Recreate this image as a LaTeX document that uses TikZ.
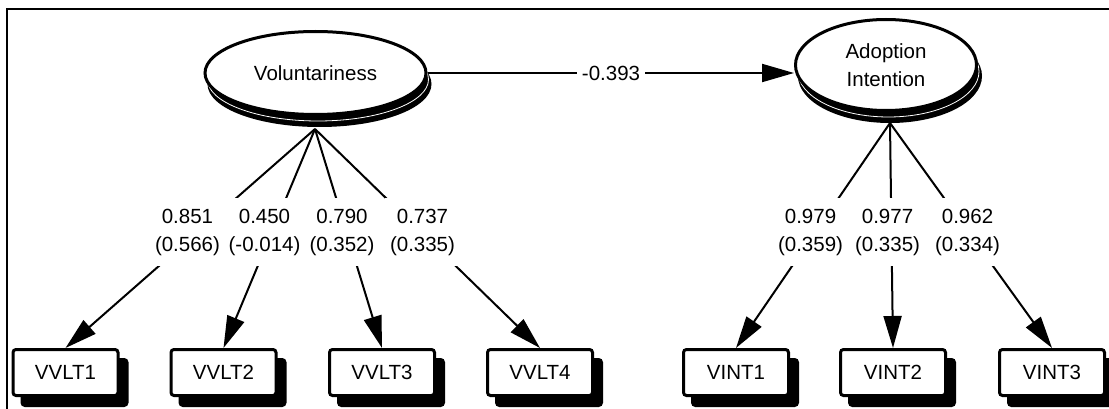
\documentclass[tikz,border=0pt]{standalone}
\usepackage{fontspec}
\setmainfont{Liberation Sans}
\usetikzlibrary{arrows.meta,shapes.geometric,shadows}
\begin{document}
\begin{tikzpicture}[x=1pt,y=-1pt,
  every node/.style={font=\fontsize{20.5}{28}\selectfont},
  latent/.style={ellipse, draw, line width=3pt, fill=white, inner sep=0pt,
    general shadow={shadow xshift=4pt, shadow yshift=-11pt, fill=black, draw=black, line width=3pt},
    general shadow={shadow xshift=2.5pt, shadow yshift=-6.5pt, draw=white, line width=0.8pt}},
  indicator/.style={rectangle, rounded corners=3pt, draw, line width=3pt, fill=white,
    minimum width=105pt, minimum height=46pt, inner sep=0pt,
    general shadow={shadow xshift=9pt, shadow yshift=-10pt, fill=black, draw=black, line width=3pt}},
  conn/.style={line width=2pt, -{Triangle[length=32pt,width=18pt]}},
  loading/.style={fill=white, align=center, inner xsep=5pt, inner ysep=11pt},
  coef/.style={fill=white, inner xsep=4.5pt, inner ysep=1pt}]
\useasboundingbox (0,0) rectangle (1109,409);

% outer frame
\draw[line width=2pt] (7,430) -- (7,9) -- (1130,9);

% latent variables
\node[latent, minimum width=221pt, minimum height=83pt] (vol) at (315.5,73) {Voluntariness};
\node[latent, minimum width=181pt, minimum height=91pt, align=center] (ai) at (886,65) {Adoption\\Intention};

% observed indicators
\node[indicator] (v1) at (65.5,372.5) {VVLT1};
\node[indicator] (v2) at (223.5,372.5) {VVLT2};
\node[indicator] (v3) at (382,372.5) {VVLT3};
\node[indicator] (v4) at (540,372.5) {VVLT4};
\node[indicator] (a1) at (736,372.5) {VINT1};
\node[indicator] (a2) at (893,372.5) {VINT2};
\node[indicator] (a3) at (1052,372.5) {VINT3};

% origins of the loading paths
\coordinate (vtip) at (315,129);
\coordinate (atip) at (890,123);

% structural path
\draw[conn] (vol.east) -- (ai.west |- vol.east);
\node[coef] (beta) at (611,73) {-0.393};

% measurement paths
\draw[conn] (vtip) -- (v1.north);
\draw[conn] (vtip) -- (v2.north);
\draw[conn] (vtip) -- (v3.north);
\draw[conn] (vtip) -- (v4.north);
\draw[conn] (atip) -- (a1.north);
\draw[conn] (atip) -- (a2.north);
\draw[conn] (atip) -- (a3.north);

% loadings with standard errors
\node[loading] (l1) at (187.5,232) {0.851\\(0.566)};
\node[loading] (l2) at (264.5,232) {0.450\\(-0.014)};
\node[loading] (l3) at (342,232) {0.790\\(0.352)};
\node[loading] (l4) at (422.5,232) {0.737\\(0.335)};
\node[loading] (l5) at (810.5,232) {0.979\\(0.359)};
\node[loading] (l6) at (887.5,232) {0.977\\(0.335)};
\node[loading] (l7) at (967.5,232) {0.962\\(0.334)};
\end{tikzpicture}
\end{document}
